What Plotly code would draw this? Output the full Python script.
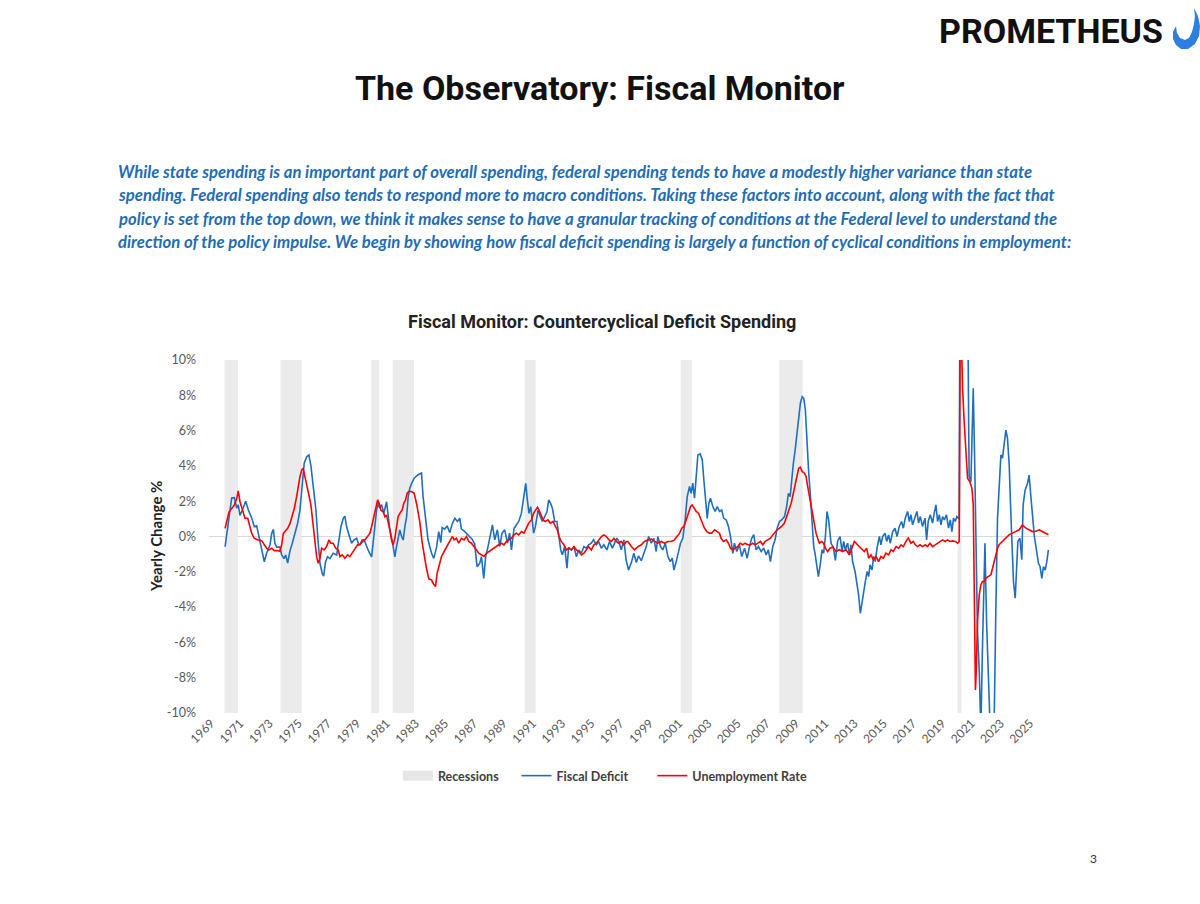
import plotly.graph_objects as go

# --- data (year as decimal, value in %) ---
FD_YEAR = [
    1969.96, 1970.41, 1970.59, 1970.76, 1970.86, 1970.98, 1971.14, 1971.37, 1971.55, 1971.78,
    1971.96, 1972.12, 1972.23, 1972.35, 1972.46, 1972.64, 1972.80, 1973.03, 1973.15, 1973.26,
    1973.37, 1973.49, 1973.71, 1973.83, 1973.99, 1974.10, 1974.24, 1974.40, 1974.55, 1974.74,
    1974.92, 1975.08, 1975.24, 1975.37, 1975.54, 1975.69, 1975.83, 1975.99, 1976.17, 1976.33,
    1976.45, 1976.60, 1976.70, 1976.83, 1976.97, 1977.13, 1977.35, 1977.59, 1977.70, 1977.88,
    1978.04, 1978.15, 1978.27, 1978.43, 1978.61, 1978.77, 1978.95, 1979.11, 1979.29, 1979.47,
    1979.64, 1979.79, 1979.98, 1980.09, 1980.20, 1980.32, 1980.43, 1980.54, 1980.66, 1980.82,
    1981.00, 1981.11, 1981.23, 1981.38, 1981.57, 1981.68, 1981.79, 1981.91, 1982.03, 1982.14,
    1982.25, 1982.37, 1982.48, 1982.59, 1982.71, 1982.89, 1983.16, 1983.39, 1983.50, 1983.67,
    1983.84, 1984.08, 1984.23, 1984.42, 1984.57, 1984.71, 1984.80, 1984.98, 1985.14, 1985.33,
    1985.48, 1985.67, 1985.85, 1986.01, 1986.12, 1986.30, 1986.53, 1986.69, 1986.85, 1987.03,
    1987.19, 1987.37, 1987.49, 1987.65, 1987.78, 1987.94, 1988.13, 1988.24, 1988.40, 1988.58,
    1988.74, 1988.90, 1989.08, 1989.27, 1989.42, 1989.54, 1989.72, 1989.88, 1990.04, 1990.22,
    1990.38, 1990.52, 1990.63, 1990.74, 1990.86, 1990.95, 1991.06, 1991.18, 1991.36, 1991.52,
    1991.66, 1991.81, 1991.97, 1992.09, 1992.22, 1992.34, 1992.50, 1992.65, 1992.79, 1992.91,
    1993.02, 1993.18, 1993.34, 1993.45, 1993.64, 1993.82, 1993.98, 1994.14, 1994.32, 1994.50,
    1994.66, 1994.82, 1995.00, 1995.16, 1995.35, 1995.50, 1995.69, 1995.86, 1996.07, 1996.25,
    1996.44, 1996.60, 1996.75, 1996.89, 1997.05, 1997.23, 1997.38, 1997.55, 1997.74, 1997.91,
    1998.08, 1998.23, 1998.42, 1998.60, 1998.76, 1998.92, 1999.10, 1999.28, 1999.44, 1999.55,
    1999.74, 1999.89, 2000.06, 2000.24, 2000.40, 2000.54, 2000.65, 2000.81, 2000.97, 2001.10,
    2001.26, 2001.42, 2001.56, 2001.72, 2001.83, 2001.94, 2002.06, 2002.18, 2002.29, 2002.45,
    2002.59, 2002.70, 2002.81, 2002.93, 2003.04, 2003.15, 2003.31, 2003.47, 2003.61, 2003.77,
    2003.92, 2004.06, 2004.23, 2004.38, 2004.52, 2004.68, 2004.79, 2004.95, 2005.13, 2005.29,
    2005.48, 2005.66, 2005.82, 2005.97, 2006.11, 2006.27, 2006.43, 2006.62, 2006.79, 2006.96,
    2007.11, 2007.25, 2007.41, 2007.57, 2007.71, 2007.87, 2008.02, 2008.21, 2008.36, 2008.48,
    2008.60, 2008.71, 2008.82, 2008.94, 2009.08, 2009.18, 2009.30, 2009.42, 2009.53, 2009.64,
    2009.76, 2009.87, 2009.98, 2010.10, 2010.21, 2010.30, 2010.41, 2010.53, 2010.67, 2010.78,
    2010.89, 2011.01, 2011.12, 2011.23, 2011.40, 2011.55, 2011.69, 2011.85, 2012.01, 2012.15,
    2012.26, 2012.37, 2012.53, 2012.65, 2012.76, 2012.87, 2013.04, 2013.17, 2013.28, 2013.40,
    2013.52, 2013.62, 2013.74, 2013.86, 2013.97, 2014.06, 2014.20, 2014.31, 2014.42, 2014.54,
    2014.70, 2014.81, 2014.92, 2015.09, 2015.20, 2015.33, 2015.45, 2015.61, 2015.77, 2015.91,
    2016.06, 2016.22, 2016.34, 2016.47, 2016.63, 2016.75, 2016.86, 2016.97, 2017.14, 2017.27,
    2017.38, 2017.50, 2017.65, 2017.82, 2017.93, 2018.04, 2018.18, 2018.34, 2018.45, 2018.57,
    2018.68, 2018.80, 2018.91, 2019.02, 2019.14, 2019.29, 2019.43, 2019.55, 2019.66, 2019.77,
    2019.89, 2020.00, 2020.11, 2020.16, 2020.22, 2020.74, 2020.81, 2020.84, 2020.96, 2021.12,
    2021.21, 2021.30, 2021.41, 2021.53, 2021.64, 2021.75, 2021.92, 2022.03, 2022.16, 2022.28,
    2022.44, 2022.55, 2022.67, 2022.78, 2022.89, 2023.01, 2023.12, 2023.23, 2023.35, 2023.46,
    2023.58, 2023.67, 2023.76, 2023.87, 2023.99, 2024.08, 2024.17, 2024.31, 2024.44, 2024.53,
    2024.67, 2024.83, 2024.94, 2025.08, 2025.17, 2025.30, 2025.44, 2025.58, 2025.69, 2025.81,
    2025.92, 2026.04, 2026.15, 2026.26,
]
FD_VALUE = [
    -0.58, 2.18, 2.2, 1.6, 1.8, 1.2, 1.5, 2.0, 1.5, 1.05,
    0.55, 0.6, 0.18, -0.3, -0.58, -1.43, -0.95, -0.48, 0.18, 0.4,
    -0.4, -0.6, -0.6, -1.05, -1.25, -1.05, -1.5, -0.8, -0.4, 0.18,
    0.75, 1.5, 2.82, 4.15, 4.52, 4.62, 4.0, 2.73, 1.5, -0.38,
    -1.52, -2.09, -2.24, -1.43, -1.15, -1.25, -0.95, -1.05, -0.48, 0.55,
    1.03, 1.15, 0.55, 0.1, -0.38, -0.2, -0.1, -0.48, -0.38, -0.2,
    -0.58, -0.86, -1.15, -0.38, 0.75, 1.5, 1.9, 1.6, 1.8, 1.33,
    1.97, 1.1, 0.37, -0.2, -1.15, -0.58, -0.1, 0.37, 0.0, -0.2,
    0.55, 1.1, 2.25, 2.73, 3.0, 3.3, 3.5, 3.6, 2.25, 1.12,
    -0.2, -0.95, -1.24, -0.62, 0.27, -0.34, 0.51, 0.42, 0.6, 0.22,
    0.7, 1.03, 0.85, 1.03, 0.42, 0.32, 0.13, 0.04, -0.15, -0.43,
    -1.71, -1.52, -1.14, -2.37, -1.14, -0.57, 0.19, 0.66, -0.19, 0.38,
    -0.57, 0.19, 0.38, -0.38, 0.19, -0.76, 0.47, 0.66, 0.85, 1.31,
    2.26, 3.01, 2.07, 1.31, 1.69, 0.94, 0.19, 0.56, 1.5, 1.12,
    0.85, 1.12, 1.4, 2.07, 1.88, 1.6, 0.85, 0.85, -0.1, -0.76,
    -1.04, -0.57, -1.8, -0.62, -0.76, -0.57, -1.14, -0.76, -0.95, -0.57,
    -0.66, -0.47, -0.38, -0.19, -0.47, -0.28, -0.66, -0.47, -0.76, -0.28,
    -0.66, -0.38, -0.09, -0.28, -0.76, -0.19, -1.33, -1.9, -1.48, -0.95,
    -1.47, -1.1, -1.37, -0.95, -0.57, 0.0, -0.38, -0.1, -0.85, 0.0,
    -0.57, -0.76, -0.38, -1.14, -1.42, -1.23, -1.9, -1.42, -0.85, -0.38,
    -0.1, 0.94, 2.26, 2.83, 2.45, 3.02, 2.17, 3.49, 4.62, 4.68,
    4.34, 3.2, 2.07, 1.03, 1.89, 2.17, 1.7, 1.42, 1.7, 1.42,
    1.5, 1.03, 0.94, 0.57, 0.0, -0.95, -0.38, -0.85, -0.47, -1.14,
    -0.66, -1.23, -0.57, -0.1, 0.1, -0.76, -0.57, -0.85, -0.66, -1.04,
    -0.76, -1.42, -0.57, -0.19, 0.47, 0.85, 0.94, 1.13, 1.7, 2.45,
    2.26, 3.39, 4.15, 4.9, 5.85, 6.79, 7.55, 7.92, 7.83, 7.17,
    5.1, 3.58, 2.36, 0.94, -0.57, -0.95, -1.6, -2.27, -1.52, -0.76,
    -0.95, 0.0, 1.42, 0.94, -0.4, -0.6, -1.35, -0.25, 0.0, -0.85,
    -0.28, -0.75, -0.38, -1.04, -0.47, -1.42, -1.99, -2.74, -3.31, -4.35,
    -3.69, -2.93, -2.55, -1.99, -2.27, -1.6, -1.89, -1.13, -1.42, -0.66,
    0.0, -0.47, 0.0, 0.19, -0.28, 0.09, -0.38, 0.28, 0.47, 0.0,
    0.57, 0.85, 0.47, 1.04, 1.42, 0.85, 1.23, 0.66, 1.04, 1.42,
    0.76, 1.13, 0.57, 1.04, -0.19, 0.85, 1.23, 0.76, 1.32, 1.79,
    0.85, 1.23, 0.66, 1.13, 0.94, 1.23, 0.47, 0.94, 0.28, 1.04,
    0.85, 1.13, 1.04, 1.0, 14.0, 14.0, 6.0, 3.39, 3.1, 8.4,
    4.6, -1.0, -5.4, -7.6, -11.0, -6.3, -0.38, -4.8, -8.6, -11.0,
    -12.0, -10.5, -3.9, 1.04, 2.74, 4.62, 4.44, 5.37, 6.03, 5.57,
    4.05, 1.79, -0.28, -2.55, -3.5, -1.98, -0.28, -0.1, -1.32, 1.79,
    2.64, 3.0, 3.48, 2.08, 1.14, 0.0, -0.76, -1.52, -1.7, -2.37,
    -1.7, -1.9, -1.42, -0.76,
]

UR_YEAR = [
    1969.96, 1970.07, 1970.23, 1970.41, 1970.59, 1970.76, 1970.86, 1970.98, 1971.10, 1971.21,
    1971.32, 1971.51, 1971.62, 1971.78, 1971.96, 1972.19, 1972.35, 1972.50, 1972.64, 1972.80,
    1972.96, 1973.15, 1973.32, 1973.56, 1973.71, 1973.83, 1973.94, 1974.05, 1974.24, 1974.40,
    1974.55, 1974.69, 1974.85, 1974.96, 1975.08, 1975.20, 1975.30, 1975.42, 1975.54, 1975.69,
    1975.83, 1975.99, 1976.10, 1976.22, 1976.33, 1976.45, 1976.56, 1976.74, 1976.90, 1977.06,
    1977.20, 1977.35, 1977.52, 1977.70, 1977.81, 1977.97, 1978.15, 1978.34, 1978.49, 1978.65,
    1978.84, 1979.02, 1979.18, 1979.33, 1979.52, 1979.70, 1979.86, 1979.98, 1980.13, 1980.27,
    1980.39, 1980.50, 1980.61, 1980.77, 1980.89, 1981.00, 1981.11, 1981.23, 1981.34, 1981.45,
    1981.57, 1981.68, 1981.79, 1981.91, 1982.07, 1982.18, 1982.30, 1982.41, 1982.52, 1982.71,
    1982.89, 1983.07, 1983.28, 1983.43, 1983.57, 1983.73, 1983.89, 1984.08, 1984.18, 1984.35,
    1984.46, 1984.57, 1984.76, 1984.94, 1985.10, 1985.21, 1985.37, 1985.51, 1985.62, 1985.78,
    1985.94, 1986.12, 1986.30, 1986.47, 1986.62, 1986.81, 1986.98, 1987.15, 1987.31, 1987.49,
    1987.67, 1987.83, 1987.99, 1988.17, 1988.35, 1988.52, 1988.67, 1988.86, 1989.03, 1989.20,
    1989.38, 1989.54, 1989.72, 1989.88, 1990.04, 1990.22, 1990.40, 1990.56, 1990.72, 1990.91,
    1991.06, 1991.20, 1991.32, 1991.42, 1991.54, 1991.70, 1991.86, 1992.04, 1992.20, 1992.38,
    1992.55, 1992.68, 1992.79, 1992.95, 1993.13, 1993.30, 1993.45, 1993.64, 1993.82, 1993.98,
    1994.16, 1994.32, 1994.50, 1994.66, 1994.82, 1995.00, 1995.18, 1995.35, 1995.50, 1995.69,
    1995.86, 1996.03, 1996.21, 1996.37, 1996.55, 1996.71, 1996.87, 1997.05, 1997.23, 1997.39,
    1997.50, 1997.74, 1997.96, 1998.19, 1998.42, 1998.64, 1998.87, 1999.10, 1999.33, 1999.55,
    1999.79, 2000.01, 2000.24, 2000.47, 2000.69, 2000.88, 2001.04, 2001.19, 2001.33, 2001.49,
    2001.65, 2001.79, 2001.90, 2002.01, 2002.18, 2002.33, 2002.47, 2002.63, 2002.74, 2002.90,
    2003.08, 2003.24, 2003.43, 2003.61, 2003.77, 2003.88, 2004.04, 2004.23, 2004.38, 2004.52,
    2004.68, 2004.84, 2005.02, 2005.18, 2005.36, 2005.52, 2005.70, 2005.89, 2006.04, 2006.21,
    2006.38, 2006.57, 2006.73, 2006.89, 2007.07, 2007.25, 2007.41, 2007.57, 2007.71, 2007.87,
    2008.02, 2008.21, 2008.36, 2008.50, 2008.67, 2008.82, 2008.96, 2009.08, 2009.18, 2009.30,
    2009.42, 2009.57, 2009.69, 2009.80, 2009.92, 2010.03, 2010.14, 2010.26, 2010.37, 2010.48,
    2010.60, 2010.76, 2010.89, 2011.01, 2011.17, 2011.33, 2011.51, 2011.74, 2011.96, 2012.19,
    2012.42, 2012.65, 2012.87, 2012.99, 2013.21, 2013.45, 2013.67, 2013.83, 2013.97, 2014.13,
    2014.29, 2014.47, 2014.65, 2014.81, 2014.97, 2015.15, 2015.33, 2015.50, 2015.65, 2015.84,
    2016.02, 2016.18, 2016.34, 2016.52, 2016.68, 2016.86, 2017.02, 2017.16, 2017.31, 2017.48,
    2017.65, 2017.84, 2017.99, 2018.16, 2018.34, 2018.52, 2018.68, 2018.84, 2019.02, 2019.20,
    2019.36, 2019.53, 2019.70, 2019.89, 2020.05, 2020.16, 2020.22, 2020.33, 2020.39, 2020.50,
    2020.62, 2020.73, 2020.89, 2021.03, 2021.12, 2021.17, 2021.21, 2021.27, 2021.34, 2021.41,
    2021.53, 2021.64, 2021.75, 2021.87, 2021.98, 2022.16, 2022.33, 2022.44, 2022.55, 2022.67,
    2022.78, 2022.89, 2023.12, 2023.35, 2023.58, 2023.80, 2024.03, 2024.26, 2024.48, 2024.72,
    2024.94, 2025.17, 2025.40, 2025.63, 2025.85, 2026.08, 2026.26,
]
UR_VALUE = [
    0.46, 0.93, 1.4, 1.59, 1.78, 2.16, 2.58, 1.97, 1.59, 1.21,
    1.03, 1.03, 0.65, 0.17, -0.1, -0.2, -0.2, -0.28, -0.47, -0.66,
    -0.76, -0.66, -0.8, -0.8, -0.85, -0.47, 0.17, 0.27, 0.46, 0.74,
    1.12, 1.59, 2.25, 2.82, 3.39, 3.77, 3.87, 3.39, 3.0, 2.35,
    1.78, 0.55, -0.38, -1.14, -1.52, -1.23, -0.66, -0.76, -0.57, -0.2,
    -0.38, -0.38, -0.66, -0.76, -1.14, -1.04, -1.23, -1.04, -1.14, -0.95,
    -0.66, -0.47, -0.47, -0.2, -0.2, 0.0, 0.17, 0.55, 1.12, 1.7,
    2.07, 1.88, 1.5, 1.4, 1.12, 1.21, 0.85, 0.37, -0.2, -0.47,
    -0.1, 0.46, 1.12, 1.31, 1.5, 1.88, 2.07, 2.45, 2.55, 2.55,
    2.45, 1.8, 0.8, -0.3, -1.1, -1.8, -2.4, -2.46, -2.65, -2.84,
    -2.08, -1.7, -1.13, -0.85, -0.57, -0.38, -0.19, 0.0, -0.19, -0.1,
    -0.38, -0.1, -0.19, 0.0, -0.28, -0.38, -0.57, -0.76, -0.95, -1.04,
    -1.13, -0.95, -0.85, -0.76, -0.66, -0.57, -0.47, -0.38, -0.47, -0.28,
    -0.19, -0.1, 0.09, 0.19, 0.09, 0.28, 0.19, 0.47, 0.76, 0.94,
    1.32, 1.51, 1.66, 1.51, 1.23, 0.94, 0.85, 0.94, 0.76, 0.85,
    0.57, 0.38, 0.0, -0.28, -0.47, -0.76, -0.66, -0.76, -0.57, -0.76,
    -0.85, -1.04, -0.95, -0.76, -0.57, -0.76, -0.47, -0.38, -0.19, 0.0,
    0.09, 0.0, -0.19, -0.28, -0.1, -0.28, -0.38, -0.28, -0.47, -0.28,
    -0.28, -0.57, -0.76, -0.57, -0.47, -0.28, -0.19, -0.15, -0.28, -0.38,
    -0.28, -0.38, -0.28, -0.28, -0.19, 0.0, 0.19, 0.47, 0.57, 0.94,
    1.32, 1.7, 1.79, 1.61, 1.42, 1.32, 1.04, 0.76, 0.47, 0.28,
    0.19, 0.19, 0.38, 0.28, 0.19, -0.1, -0.28, -0.19, -0.38, -0.66,
    -0.76, -0.66, -0.57, -0.38, -0.47, -0.38, -0.47, -0.47, -0.38, -0.47,
    -0.38, -0.28, -0.47, -0.28, -0.19, -0.1, 0.09, 0.28, 0.38, 0.47,
    0.57, 0.76, 1.13, 1.51, 1.89, 2.45, 3.02, 3.49, 3.87, 3.93,
    3.68, 3.59, 3.4, 2.83, 2.26, 1.79, 1.13, 0.57, 0.19, -0.1,
    -0.38, -0.28, -0.38, -0.66, -0.85, -0.66, -0.6, -0.85, -0.75, -0.85,
    -0.75, -1.04, -0.57, -0.28, -0.47, -0.66, -0.85, -0.66, -1.23, -1.04,
    -1.32, -1.13, -1.42, -1.13, -1.23, -0.94, -1.04, -0.75, -0.85, -0.57,
    -0.66, -0.47, -0.57, -0.28, -0.09, -0.38, -0.28, -0.47, -0.57, -0.47,
    -0.57, -0.47, -0.57, -0.38, -0.57, -0.47, -0.38, -0.28, -0.19, -0.28,
    -0.19, -0.28, -0.25, -0.28, -0.38, -0.28, 11.2, 10.5, 8.4, 6.5,
    4.62, 3.3, 3.1, 2.73, 1.79, -1.0, -4.83, -8.7, -7.3, -4.8,
    -3.3, -2.75, -2.55, -2.55, -2.36, -2.27, -2.17, -1.8, -1.42, -1.04,
    -0.66, -0.47, -0.28, -0.09, 0.1, 0.19, 0.28, 0.38, 0.65, 0.47,
    0.38, 0.28, 0.3, 0.38, 0.28, 0.19, 0.1,
]

# NBER recessions as shaded in the chart
REC_START = [1969.92, 1973.75, 1979.95, 1981.42, 1990.45, 2001.12, 2007.85, 2020.05]
REC_END = [1970.84, 1975.20, 1980.48, 1982.87, 1991.20, 2001.87, 2009.46, 2020.32]

TICK_YEARS = list(range(1969, 2026, 2))
Y_TICKS = [-10, -8, -6, -4, -2, 0, 2, 4, 6, 8, 10]

PARAGRAPH = [
    "While state spending is an important part of overall spending, federal spending tends to have a modestly higher variance than state",
    "spending. Federal spending also tends to respond more to macro conditions. Taking these factors into account, along with the fact that",
    "policy is set from the top down, we think it makes sense to have a granular tracking of conditions at the Federal level to understand the",
    "direction of the policy impulse. We begin by showing how fiscal deficit spending is largely a function of cyclical conditions in employment:",
]

W, H = 1200, 904
HEAD = "Roboto, Liberation Sans, sans-serif"
BODY = "Lato, Open Sans, sans-serif"
NBSP = "\u00a0"


def px(x, y):
    # page pixel -> paper coords (margins are zero)
    return x / W, 1 - y / H


rec_mid = [(a + b) / 2 for a, b in zip(REC_START, REC_END)]
rec_w = [b - a for a, b in zip(REC_START, REC_END)]

fig = go.Figure()
fig.add_trace(go.Bar(
    x=rec_mid, y=[20] * len(rec_mid), base=[-10] * len(rec_mid), width=rec_w,
    marker=dict(color="#ebebeb", line=dict(width=0)),
    name="Recessions", showlegend=False, legendgroup="rec", hoverinfo="skip",
))
# legend swatch for the shaded bands (wide grey block like the original)
fig.add_trace(go.Scatter(
    x=[None], y=[None], mode="lines", line=dict(color="#e6e6e6", width=10),
    name="<b>Recessions</b>" + NBSP * 4, legendgroup="rec",
))
fig.add_trace(go.Scatter(
    x=FD_YEAR, y=FD_VALUE, mode="lines",
    line=dict(color="#1f6fc0", width=1.6), name="<b>Fiscal Deficit</b>" + NBSP * 6,
))
fig.add_trace(go.Scatter(
    x=UR_YEAR, y=UR_VALUE, mode="lines",
    line=dict(color="#ff0000", width=1.6), name="<b>Unemployment Rate</b>",
))

x0, y0 = px(209, 713)
x1, y1 = px(1049, 360)

fig.update_layout(
    width=W, height=H,
    margin=dict(l=0, r=0, t=0, b=0, autoexpand=False),
    paper_bgcolor="white", plot_bgcolor="white",
    barmode="overlay",
    showlegend=True,
    legend=dict(orientation="h", x=0.5045, xanchor="center", y=px(0, 776)[1], yanchor="middle",
                font=dict(family=BODY, size=12.5, color="#404040"), bgcolor="rgba(0,0,0,0)"),
    xaxis=dict(domain=[x0, x1], range=[1968.86, 2026.3], tickmode="array",
               tickvals=TICK_YEARS, ticktext=[str(t) for t in TICK_YEARS], tickangle=-45,
               tickfont=dict(family=BODY, size=12, color="#595959"),
               showgrid=False, zeroline=False, showline=False, ticks=""),
    yaxis=dict(domain=[y0, y1], range=[-10, 10], tickmode="array", tickvals=Y_TICKS,
               ticktext=[f"{v}%" for v in Y_TICKS],
               tickfont=dict(family=BODY, size=12.5, color="#595959"),
               showgrid=False, zeroline=True, zerolinecolor="#d9d9d9", zerolinewidth=1,
               showline=False, ticks="", ticklabelstandoff=12),
)

ann = []
ax, ay = px(1165, 31)
ann.append(dict(x=ax, y=ay, text="<b>PROMETHEUS</b>", xanchor="right", yanchor="middle",
                font=dict(family=HEAD, size=34, color="#111")))
ax, ay = px(600, 88)
ann.append(dict(x=ax, y=ay, text="<b>The Observatory: Fiscal Monitor</b>", xanchor="center",
                yanchor="middle", font=dict(family=HEAD, size=34, color="#111")))
for i, line in enumerate(PARAGRAPH):
    ax, ay = px(116, 172 + i * 23.4)
    ann.append(dict(x=ax, y=ay, text=f"<b><i>{line}</i></b>", xanchor="left", yanchor="middle",
                    font=dict(family=BODY, size=16.7, color="#1f6db4")))
ax, ay = px(602, 322)
ann.append(dict(x=ax, y=ay, text="<b>Fiscal Monitor: Countercyclical Deficit Spending</b>",
                xanchor="center", yanchor="middle",
                font=dict(family=HEAD, size=18, color="#222")))
ax, ay = px(156, 537)
ann.append(dict(x=ax, y=ay, text="<b>Yearly Change %</b>", textangle=-90, xanchor="center",
                yanchor="middle", font=dict(family=BODY, size=15, color="#222")))
ax, ay = px(1093, 858)
ann.append(dict(x=ax, y=ay, text="3", xanchor="center", yanchor="middle",
                font=dict(family=BODY, size=12, color="#333")))
for a in ann:
    a.update(xref="paper", yref="paper", showarrow=False)
fig.update_layout(annotations=ann)

# crescent mark next to the logo (thick at the lower right, thin tip at the upper left)
outer = [(1194, 8), (1198, 16), (1200, 26), (1199, 36), (1195, 44), (1188, 49), (1181, 49),
         (1176, 45), (1173, 39), (1173, 32), (1176, 26)]
inner = [(1177, 33), (1180, 38), (1185, 40), (1189, 38), (1192, 32), (1194, 24), (1195, 16)]
pts = outer + inner
path = "M " + " L ".join("%.4f,%.4f" % px(*p) for p in pts) + " Z"
fig.add_shape(type="path", path=path, xref="paper", yref="paper",
              fillcolor="#2b7fe0", line=dict(width=0))

fig.write_html("out.html", config={"displayModeBar": False},
               post_script="document.body.style.margin='0';")
